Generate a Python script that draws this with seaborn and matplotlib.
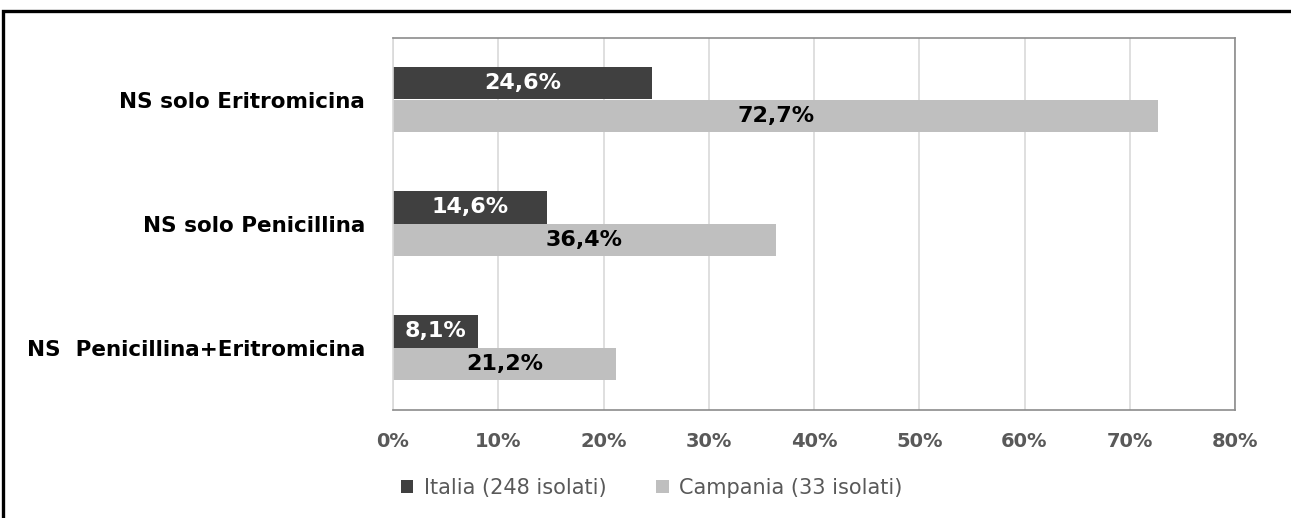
import seaborn as sns
import matplotlib.pyplot as plt
import pandas as pd
from matplotlib.patches import Rectangle, Patch

categories = ["NS solo Eritromicina", "NS solo Penicillina", "NS  Penicillina+Eritromicina"]
italia = [24.6, 14.6, 8.1]
campania = [72.7, 36.4, 21.2]
series_names = ["Italia (248 isolati)", "Campania (33 isolati)"]
x_ticks = [0, 10, 20, 30, 40, 50, 60, 70, 80]

colors = ["#404040", "#BFBFBF"]

df = pd.DataFrame({
    "categoria": categories * 2,
    "valore": italia + campania,
    "serie": [series_names[0]] * 3 + [series_names[1]] * 3,
})

sns.set_style("white")
plt.rcParams["font.family"] = ["DejaVu Sans"]

fig = plt.figure(figsize=(12.91, 5.18), dpi=100)
ax = fig.add_axes([393 / 1291, 1 - 409.5 / 518, 842 / 1291, 372 / 518])

sns.barplot(data=df, y="categoria", x="valore", hue="serie", orient="h",
            palette=colors, saturation=1, width=0.53, linewidth=0,
            order=categories, hue_order=series_names, ax=ax, legend=False)

# value labels in the middle of each bar
label_colors = ["white", "black"]
for cont, col in zip(ax.containers, label_colors):
    labs = [f"{b.get_width():.1f}%".replace(".", ",") for b in cont]
    ax.bar_label(cont, labels=labs, label_type="center", color=col,
                 fontsize=16, fontweight="bold")

ax.set_xlim(0, 80)
ax.set_xticks(x_ticks)
ax.set_xticklabels([f"{t}%" for t in x_ticks], fontsize=14, fontweight="bold", color="#595959")
ax.set_yticks(range(len(categories)))
ax.set_yticklabels(categories, fontsize=15.5, fontweight="bold", color="black")
ax.tick_params(axis="x", length=0, pad=16)
ax.tick_params(axis="y", length=0, pad=20)
ax.set_xlabel("")
ax.set_ylabel("")

ax.grid(axis="x", color="#D9D9D9", linewidth=1.2)
ax.set_axisbelow(True)
for side in ["top", "right", "bottom"]:
    ax.spines[side].set_color("#8C8C8C")
    ax.spines[side].set_linewidth(1.2)
ax.spines["left"].set_color("#D9D9D9")
ax.spines["left"].set_linewidth(1.2)

handles = [Patch(facecolor=c, edgecolor="none") for c in colors]
fig.legend(handles, series_names, loc="center left", bbox_to_anchor=(382 / 1291, 1 - 488 / 518),
           ncol=2, frameon=False, fontsize=15, labelcolor="#595959",
           handlelength=0.6, handleheight=0.6, handletextpad=0.5, columnspacing=2.4)

# black outer frame (only top and left edges visible)
fig.patches.append(Rectangle((3 / 1291, -0.2), 1.2, 1.2 - 11 / 518,
                             transform=fig.transFigure, fill=False,
                             edgecolor="black", linewidth=2.4))

fig.savefig("out.png", dpi=100, facecolor="white")
